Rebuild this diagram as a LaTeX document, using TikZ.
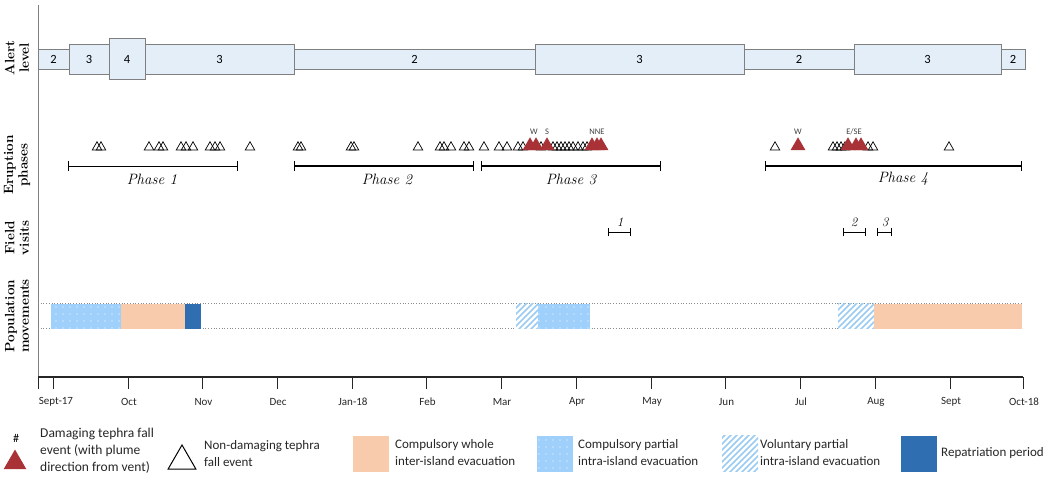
\documentclass[tikz,border=0pt]{standalone}
\usepackage{fontspec}
\newfontfamily\calib{Carlito}
\usetikzlibrary{shapes.geometric,patterns,arrows.meta}
\definecolor{alertfill}{HTML}{E4EEF8}
\definecolor{alertdraw}{HTML}{7F7F7F}
\definecolor{tephrared}{HTML}{A83236}
\definecolor{partblue}{HTML}{9FD0FB}
\definecolor{wholepeach}{HTML}{F8CBAD}
\definecolor{repblue}{HTML}{2F6EB0}
\definecolor{volblue}{HTML}{9ACBF2}
\pgfdeclarepatternformonly{wdots}{\pgfpoint{-1pt}{-1pt}}{\pgfpoint{1pt}{1pt}}{\pgfpoint{7pt}{7pt}}{\pgfpathcircle{\pgfpointorigin}{0.55pt}\pgfusepath{fill}}
\pgfdeclarepatternformonly{vstripes}{\pgfpoint{-1pt}{-1pt}}{\pgfpoint{7pt}{7pt}}{\pgfpoint{6pt}{6pt}}{\pgfsetlinewidth{1.7pt}\pgfpathmoveto{\pgfpoint{0pt}{0pt}}\pgfpathlineto{\pgfpoint{6.1pt}{6.1pt}}\pgfusepath{stroke}}
\begin{document}
\begin{tikzpicture}[x=1pt,y=-1pt,
    alertbox/.style={draw=alertdraw,fill=alertfill,line width=0.9pt,inner sep=0pt,font=\calib\fontsize{12.5}{12.5}\selectfont},
    rowlab/.style={rotate=90,align=center,font=\fontsize{13.5}{14.5}\selectfont\bfseries},
    ndtri/.style={regular polygon,regular polygon sides=3,draw,line width=0.7pt,minimum size=11pt,inner sep=0pt},
    dtri/.style={regular polygon,regular polygon sides=3,fill=tephrared,minimum size=17pt,inner sep=0pt},
    dirlab/.style={font=\calib\fontsize{8.5}{8.5}\selectfont,text=black!75,inner sep=0pt},
    phasebar/.style={{Bar[width=10pt]}-{Bar[width=10pt]},line width=1.4pt},
    phaselab/.style={font=\fontsize{15}{15}\selectfont\itshape},
    visitbar/.style={{Bar[width=8pt]}-{Bar[width=8pt]},line width=0.8pt},
    visitlab/.style={font=\fontsize{13}{13}\selectfont\itshape},
    monthlab/.style={font=\calib\fontsize{11}{11}\selectfont,text=black!85},
    cpart/.style={fill=partblue,postaction={pattern=wdots,pattern color=white}},
    vpart/.style={pattern=vstripes,pattern color=volblue},
    cwhole/.style={fill=wholepeach},
    repat/.style={fill=repblue},
    legbox/.style={minimum width=36pt,minimum height=36pt,inner sep=0pt},
    legtext/.style={font=\calib\fontsize{13}{17}\selectfont,text=black!85,align=left,anchor=west,inner sep=0pt}]
  \useasboundingbox (0,0) rectangle (1052,482);

  \node[rowlab] (alertlab) at (17,58) {Alert\\level};
  \node[rowlab] (eruptlab) at (17,165) {Eruption\\phases};
  \node[rowlab] (fieldlab) at (17,238) {Field\\visits};
  \node[rowlab] (poplab) at (17,316) {Population\\movements};

  \coordinate (ytop) at (38,5);
  \coordinate (orig) at (38,377);
  \coordinate (xend) at (1023,377);
  \draw[black!50,line width=0.9pt] (ytop) -- (orig);
  \draw[black!85,line width=1.2pt] (orig) -- (xend);

  \begin{scope}[line width=1pt,black!85]
    \draw (38,377) -- ++(0,12);
    \draw (53,377) -- ++(0,12) (56,402) node[monthlab] (m0){Sept-17};
    \draw (128,377) -- ++(0,12) (129,402) node[monthlab] (m1){Oct};
    \draw (202.5,377) -- ++(0,12) (203.5,402) node[monthlab] (m2){Nov};
    \draw (277,377) -- ++(0,12) (278,402) node[monthlab] (m3){Dec};
    \draw (352,377) -- ++(0,12) (353,402) node[monthlab] (m4){Jan-18};
    \draw (426.5,377) -- ++(0,12) (427.5,402) node[monthlab] (m5){Feb};
    \draw (501,377) -- ++(0,12) (502,402) node[monthlab] (m6){Mar};
    \draw (576,377) -- ++(0,12) (577,402) node[monthlab] (m7){Apr};
    \draw (651,377) -- ++(0,12) (652,402) node[monthlab] (m8){May};
    \draw (725.5,377) -- ++(0,12) (726.5,402) node[monthlab] (m9){Jun};
    \draw (800,377) -- ++(0,12) (801,402) node[monthlab] (m10){Jul};
    \draw (875,377) -- ++(0,12) (876,402) node[monthlab] (m11){Aug};
    \draw (950,377) -- ++(0,12) (951,402) node[monthlab] (m12){Sept};
    \draw (1023,377) -- ++(0,12) (1024,402) node[monthlab] (m13){Oct-18};
  \end{scope}

  \draw
    (53.5,59) node[alertbox,minimum width=31pt,minimum height=20pt] (al1){2}
    (89,59) node[alertbox,minimum width=40pt,minimum height=30pt] (al2){3}
    (127,59) node[alertbox,minimum width=36pt,minimum height=41pt] (al3){4}
    (219.5,59) node[alertbox,minimum width=149pt,minimum height=30pt] (al4){3}
    (414.5,59) node[alertbox,minimum width=241pt,minimum height=20pt] (al5){2}
    (639.5,59) node[alertbox,minimum width=209pt,minimum height=30pt] (al6){3}
    (799,59) node[alertbox,minimum width=110pt,minimum height=20pt] (al7){2}
    (927.5,59) node[alertbox,minimum width=147pt,minimum height=30pt] (al8){3}
    (1013,59) node[alertbox,minimum width=24pt,minimum height=20pt] (al9){2};

  \draw
    (97,147.25) node[ndtri] (nd1){}
    (101,147.25) node[ndtri] (nd2){}
    (149,147.25) node[ndtri] (nd3){}
    (159,147.25) node[ndtri] (nd4){}
    (163,147.25) node[ndtri] (nd5){}
    (181,147.25) node[ndtri] (nd6){}
    (186,147.25) node[ndtri] (nd7){}
    (193,147.25) node[ndtri] (nd8){}
    (210,147.25) node[ndtri] (nd9){}
    (215,147.25) node[ndtri] (nd10){}
    (220,147.25) node[ndtri] (nd11){}
    (250,147.25) node[ndtri] (nd12){}
    (298,147.25) node[ndtri] (nd13){}
    (301,147.25) node[ndtri] (nd14){}
    (351,147.25) node[ndtri] (nd15){}
    (354,147.25) node[ndtri] (nd16){}
    (418,147.25) node[ndtri] (nd17){}
    (440,147.25) node[ndtri] (nd18){}
    (444,147.25) node[ndtri] (nd19){}
    (451,147.25) node[ndtri] (nd20){}
    (464,147.25) node[ndtri] (nd21){}
    (469,147.25) node[ndtri] (nd22){}
    (484,147.25) node[ndtri] (nd23){}
    (499,147.25) node[ndtri] (nd24){}
    (507,147.25) node[ndtri] (nd25){}
    (518,147.25) node[ndtri] (nd26){}
    (523,147.25) node[ndtri] (nd27){}
    (541,147.25) node[ndtri] (nd28){}
    (553,147.25) node[ndtri] (nd29){}
    (557,147.25) node[ndtri] (nd30){}
    (561,147.25) node[ndtri] (nd31){}
    (565,147.25) node[ndtri] (nd32){}
    (569,147.25) node[ndtri] (nd33){}
    (573,147.25) node[ndtri] (nd34){}
    (578,147.25) node[ndtri] (nd35){}
    (583,147.25) node[ndtri] (nd36){}
    (587,147.25) node[ndtri] (nd37){}
    (775,147.25) node[ndtri] (nd38){}
    (833,147.25) node[ndtri] (nd39){}
    (837,147.25) node[ndtri] (nd40){}
    (841,147.25) node[ndtri] (nd41){}
    (845,147.25) node[ndtri] (nd42){}
    (868,147.25) node[ndtri] (nd43){}
    (873,147.25) node[ndtri] (nd44){}
    (949,147.25) node[ndtri] (nd45){};

  \draw
    (530,145.75) node[dtri] (dt1){}
    (536,145.75) node[dtri] (dt2){}
    (547,145.75) node[dtri] (dt3){}
    (592,145.75) node[dtri] (dt4){}
    (597,145.75) node[dtri] (dt5){}
    (601,145.75) node[dtri] (dt6){}
    (798,145.75) node[dtri] (dt7){}
    (848,145.75) node[dtri] (dt8){}
    (856,145.75) node[dtri] (dt9){}
    (861,145.75) node[dtri] (dt10){};

  \draw
    (534,132) node[dirlab] (dir1){W}
    (547,132) node[dirlab] (dir2){S}
    (597,132) node[dirlab] (dir3){NNE}
    (798,132) node[dirlab] (dir4){W}
    (854,132) node[dirlab] (dir5){E/SE};

  \coordinate (p1a) at (68,166);
  \coordinate (p1b) at (238,166);
  \coordinate (p2a) at (294,166);
  \coordinate (p2b) at (474,166);
  \coordinate (p3a) at (481,166);
  \coordinate (p3b) at (661,166);
  \coordinate (p4a) at (765,166);
  \coordinate (p4b) at (1022,166);
  \draw[phasebar,line width=1pt] (p1a) -- (p1b);
  \draw[phasebar] (p2a) -- (p2b);
  \draw[phasebar] (p3a) -- (p3b);
  \draw[phasebar] (p4a) -- (p4b);
  \draw
    (152,179) node[phaselab] (ph1){Phase 1}
    (387,179) node[phaselab] (ph2){Phase 2}
    (571,179) node[phaselab] (ph3){Phase 3}
    (903,179) node[phaselab] (ph4){Phase 4};

  \coordinate (v1a) at (608,232);
  \coordinate (v1b) at (631,232);
  \coordinate (v2a) at (843,232);
  \coordinate (v2b) at (866,232);
  \coordinate (v3a) at (877,232);
  \coordinate (v3b) at (892,232);
  \draw[visitbar] (v1a) -- (v1b);
  \draw[visitbar] (v2a) -- (v2b);
  \draw[visitbar] (v3a) -- (v3b);
  \draw
    (620,222) node[visitlab] (vis1){1}
    (854,222) node[visitlab] (vis2){2}
    (885,222) node[visitlab] (vis3){3};

  \coordinate (popta) at (38,303.5);
  \coordinate (poptb) at (1022,303.5);
  \coordinate (popba) at (38,328.5);
  \coordinate (popbb) at (1022,328.5);
  \draw[black!45,dotted,line width=0.7pt] (popta) -- (poptb);
  \draw[black!45,dotted,line width=0.7pt] (popba) -- (popbb);
  \path[cpart] (51,303.5) rectangle (121,328.5);
  \path[cwhole] (121,303.5) rectangle (185,328.5);
  \path[repat] (185,303.5) rectangle (201,328.5);
  \path[fill=white] (516,303.5) rectangle (538,328.5);
  \path[vpart] (516,303.5) rectangle (538,328.5);
  \path[cpart] (538,303.5) rectangle (590,328.5);
  \path[fill=white] (838,303.5) rectangle (874,328.5);
  \path[vpart] (838,303.5) rectangle (874,328.5);
  \path[cwhole] (874,303.5) rectangle (1022,328.5);

  \node[dtri,minimum size=26pt] (legdam) at (15,462.5) {};
  \node[font=\calib\fontsize{12}{12}\selectfont] (leghash) at (16,438) {\#};
  \node[legtext,font=\calib\fontsize{13.5}{17}\selectfont] (legdamtxt) at (40,451) {Damaging tephra fall\\event (with plume\\direction from vent)};
  \node[ndtri,minimum size=32pt,line width=1pt] (legnd) at (182,461) {};
  \node[legtext] (legndtxt) at (204,454) {Non-damaging tephra\\fall event};
  \node[legbox,cwhole] (legwhole) at (371,453.5) {};
  \node[legtext] (legwholetxt) at (395,453) {Compulsory whole\\inter-island evacuation};
  \node[legbox,cpart] (legpart) at (555,453.5) {};
  \node[legtext] (legparttxt) at (578,453) {Compulsory partial\\intra-island evacuation};
  \node[legbox,vpart] (legvol) at (740,453.5) {};
  \node[legtext] (legvoltxt) at (760,453) {Voluntary partial\\intra-island evacuation};
  \node[legbox,repat] (legrep) at (918.5,453.5) {};
  \node[legtext] (legreptxt) at (941,453) {Repatriation period};
\end{tikzpicture}
\end{document}
